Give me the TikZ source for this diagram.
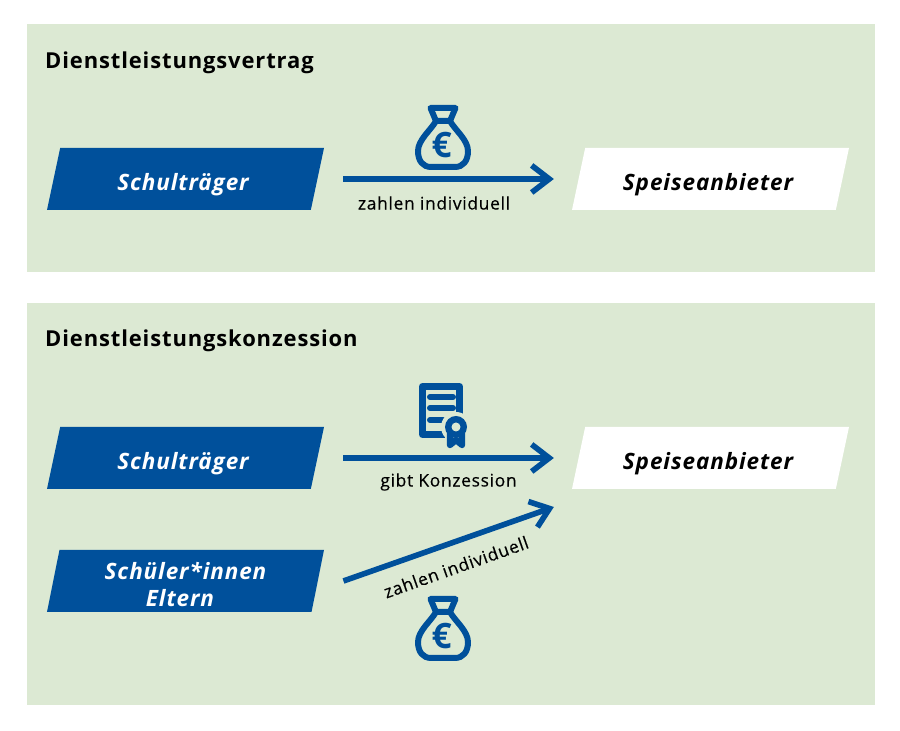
\documentclass[tikz,border=0pt]{standalone}
\usepackage{fontspec}
\setmainfont{Open Sans}
\newfontfamily\spacedfont[LetterSpace=4]{Open Sans}
\newfontfamily\labelfont[LetterSpace=4,FakeBold=0.3]{Open Sans}
\usetikzlibrary{arrows.meta,shapes.geometric}
\definecolor{panelgreen}{HTML}{DCE9D3}
\definecolor{darkblue}{HTML}{00509B}
\tikzset{
  panel/.style={fill=panelgreen},
  heading/.style={anchor=west, inner sep=0pt, font=\spacedfont\bfseries\fontsize{6.25}{8}\selectfont},
  party/.style={trapezium, trapezium left angle=78, trapezium right angle=102,
    trapezium stretches body, minimum width=2.77cm, minimum height=0.62cm, inner xsep=0pt,
    align=center, font=\spacedfont\bfseries\itshape\fontsize{6.4}{7.8}\selectfont},
  oneline/.style={text height=0.235cm, text depth=0cm, inner ysep=0.1925cm,
    execute at end node=\hspace*{0.05cm}},
  payer/.style={party, fill=darkblue, text=white},
  vendor/.style={party, fill=white, text=black},
  flow/.style={draw=darkblue, line width=1.6pt, -{Straight Barb[length=5pt,width=7.7pt]}},
  flowlabel/.style={inner sep=0pt, font=\labelfont\fontsize{4.95}{6}\selectfont},
  moneybag/.pic={
    \draw[darkblue, line width=1.7pt, line join=round]
      (-0.125,0.29) -- (0.125,0.29) -- (0.07,0.16) -- (-0.07,0.16) -- cycle;
    \draw[darkblue, line width=1.7pt, line join=round]
      (-0.07,0.16) .. controls (-0.12,0.07) and (-0.25,-0.03) .. (-0.25,-0.14)
      .. controls (-0.25,-0.24) and (-0.2,-0.3) .. (-0.12,-0.3) -- (0.12,-0.3)
      .. controls (0.2,-0.3) and (0.25,-0.24) .. (0.25,-0.14)
      .. controls (0.25,-0.03) and (0.12,0.07) .. (0.07,0.16);
    \node[text=darkblue, inner sep=0pt, font=\bfseries\fontsize{10}{10}\selectfont] at (-0.013,-0.085) {€};
  },
  certificate/.pic={
    \draw[darkblue, line width=2pt, line join=round] (-0.185,0.285) rectangle (0.185,-0.195);
    \foreach \ypos/\xend in {0.18/0.12, 0.07/0.12, -0.05/0.02}
      \draw[darkblue, line width=1.7pt, line cap=round] (-0.11,\ypos) -- (\xend,\ypos);
    \fill[panelgreen] (0.15,-0.12) circle (0.15);
    \fill[panelgreen] (0.04,-0.12) rectangle (0.29,-0.34);
    \draw[darkblue, line width=1.8pt, line cap=round, line join=round]
      (0.09,-0.18) -- (0.09,-0.3) (0.21,-0.18) -- (0.21,-0.3)
      (0.09,-0.3) -- (0.15,-0.25) -- (0.21,-0.3);
    \fill[darkblue] (0.15,-0.12) circle (0.11);
    \fill[panelgreen] (0.15,-0.12) circle (0.045);
  },
}
\begin{document}
\begin{tikzpicture}
\useasboundingbox (0,0) rectangle (9,7.31);

% Panels
\fill[panel] (0.27,7.07) rectangle (8.75,4.59);
\fill[panel] (0.27,4.28) rectangle (8.75,0.26);

% Upper panel
\node[heading] (vertrag) at (0.445,6.68) {Dienstleistungsvertrag};
\node[payer, oneline] (traegerA) at (1.855,5.52) {Schulträger};
\node[vendor, oneline] (anbieterA) at (7.105,5.52) {Speiseanbieter};
\draw[flow, shorten <=0.25cm, shorten >=0.24cm] (traegerA) -- (anbieterA);
\node[flowlabel] (zahlenA) at (4.34,5.28) {zahlen individuell};
\pic (bagA) at (4.43,5.94) {moneybag};

% Lower panel
\node[heading] (konzession) at (0.445,3.90) {Dienstleistungskonzession};
\node[payer, oneline] (traegerB) at (1.855,2.73) {Schulträger};
\node[payer, inner ysep=0.035cm] (schueler) at (1.855,1.50) {\rule{0pt}{0.24cm}Schüler*innen\\Eltern\hspace*{0.11cm}};
\node[vendor, oneline] (anbieterB) at (7.105,2.73) {Speiseanbieter};
\draw[flow, shorten <=0.25cm, shorten >=0.24cm] (traegerB) -- (anbieterB);
\draw[flow] ([xshift=0.25cm]schueler.east) -- ([shift={(-0.24cm,-0.49cm)}]anbieterB.west);
\node[flowlabel] (gibt) at (4.485,2.49) {gibt Konzession};
\node[flowlabel, rotate=19.5] (zahlenB) at (4.56,1.64) {zahlen individuell};
\pic (cert) at (4.41,3.16) {certificate};
\pic (bagB) at (4.43,1.03) {moneybag};

\end{tikzpicture}
\end{document}
